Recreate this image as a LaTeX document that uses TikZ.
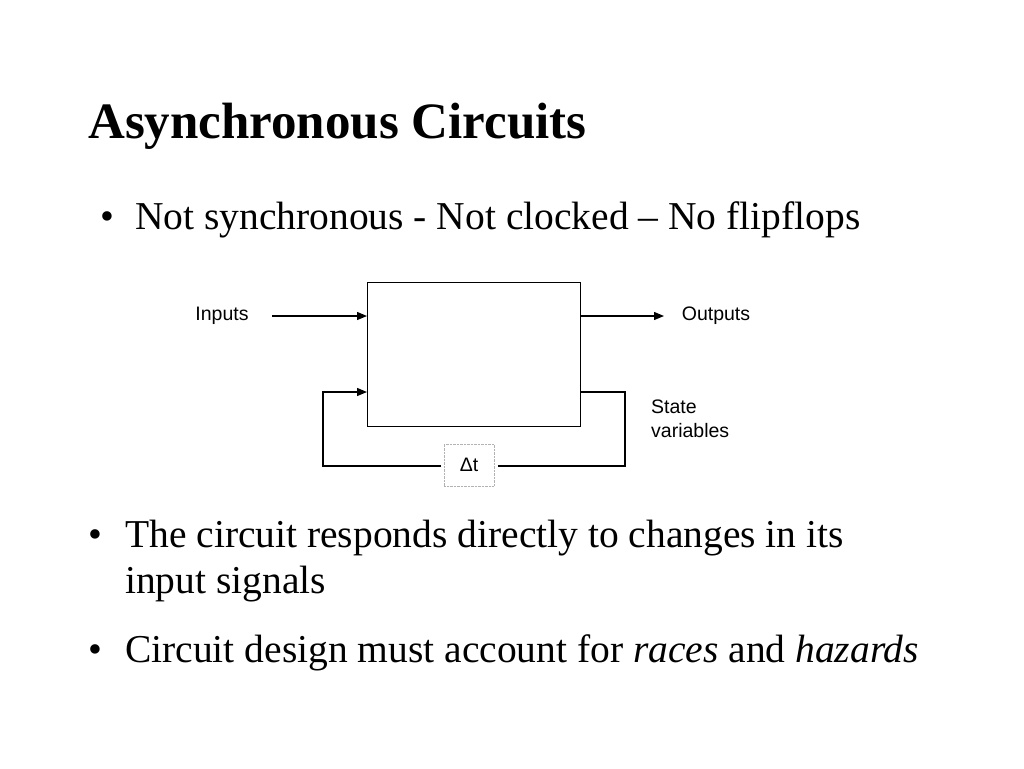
\documentclass[tikz,border=0pt]{standalone}
\usepackage{fontspec}
\setmainfont{Liberation Serif}
\newfontfamily\diagfont{Liberation Sans}
\usetikzlibrary{arrows.meta}
\begin{document}
\begin{tikzpicture}[x=1pt,y=-1pt,
  txt/.style={anchor=base west,inner sep=0pt,font=\fontsize{39.5}{46}\selectfont},
  lbl/.style={inner sep=0pt,font=\diagfont\fontsize{19.5}{24}\selectfont},
  wire/.style={line width=1.3pt},
  arr/.style={wire,-{Triangle[length=10pt,width=8pt]}}]
\useasboundingbox (0,0) rectangle (1024,768);
\node[txt,font=\bfseries\fontsize{51}{58}\selectfont] (title) at (88,138) {Asynchronous Circuits};
\node[txt] (b1) at (100,229) {\textbullet};
\node[txt] (t1) at (135,229) {Not synchronous - Not clocked -- No flipflops};
\node[txt] (b2) at (88,547) {\textbullet};
\node[txt] (t2) at (125,547) {The circuit responds directly to changes in its};
\node[txt] (t2b) at (125,593) {input signals};
\node[txt] (b3) at (88,662) {\textbullet};
\node[txt] (t3) at (125,662) {Circuit design must account for \textit{races} and \textit{hazards}};
% diagram
\node[draw,wire,minimum width=213pt,minimum height=144pt,anchor=north west] (box) at (367,282) {};
\node[lbl] (in) at (222,316) {Inputs};
\node[lbl] (out) at (716,316) {Outputs};
\node[lbl,align=left,anchor=north west] (sv) at (651,400) {State\\variables};
\node[draw=gray!60,densely dotted,minimum width=50pt,minimum height=42pt,lbl] (dt) at (469,465) {Δt};
\coordinate (inS) at (272,316);
\coordinate (outE) at (664,316);
\draw[arr] (inS) -- (box.west |- inS);
\draw[arr] (box.east |- inS) -- (outE);
\coordinate (fbR) at (580,392);
\coordinate (fbL) at (367,392);
\draw[wire] (fbR) -- (625,392) -- (625,466) -- (498,466);
\draw[arr] (441,466) -- (323,466) -- (323,392) -- (fbL);
\end{tikzpicture}
\end{document}
